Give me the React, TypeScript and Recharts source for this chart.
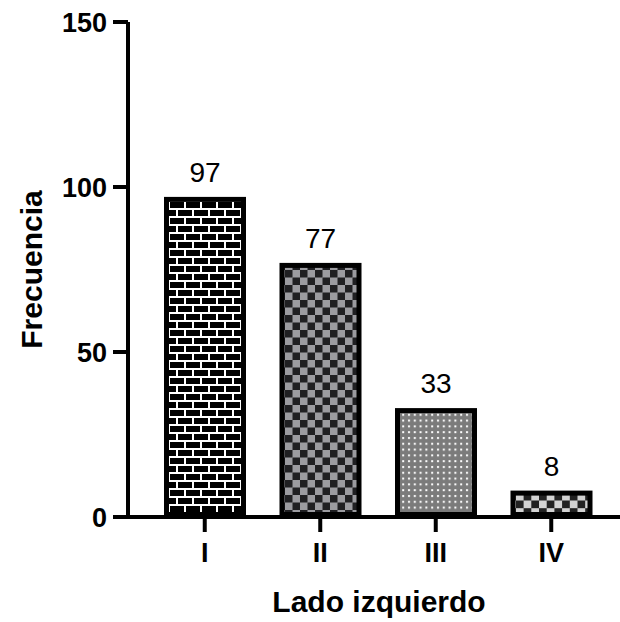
import React from 'react';
import { BarChart, Bar, XAxis, YAxis, LabelList } from 'recharts';

const categories = ['I', 'II', 'III', 'IV'];
const values = [97, 77, 33, 8];
const patternIds = ['patBrick', 'patCheckDark', 'patDots', 'patCheckLight'];
const yTicks = [0, 50, 100, 150];

const data = categories.map((c, i) => ({ cat: c, value: values[i] }));

const FONT = '"Liberation Sans", Arial, Helvetica, sans-serif';

const PatternBar = (props: any) => {
  const { x, y, width, height, index } = props;
  const sw = 5;
  return (
    <rect
      x={x + sw / 2}
      y={y + sw / 2}
      width={Math.max(0, width - sw)}
      height={Math.max(0, height - sw)}
      fill={`url(#${patternIds[index]})`}
      stroke="#000"
      strokeWidth={sw}
    />
  );
};

const YTitle = (props: any) => {
  const vb = props.viewBox || { x: 0, y: 0, width: 0, height: 0 };
  const cx = vb.x + 42;
  const cy = vb.y + vb.height / 2;
  return (
    <text
      x={cx}
      y={cy}
      transform={`rotate(-90, ${cx}, ${cy})`}
      textAnchor="middle"
      fontFamily={FONT}
      fontWeight="bold"
      fontSize={30}
      fill="#000"
    >
      Frecuencia
    </text>
  );
};

const XTitle = (props: any) => {
  const vb = props.viewBox || { x: 0, y: 0, width: 0, height: 0 };
  const cx = vb.x + vb.width / 2 + 5;
  return (
    <text
      x={cx}
      y={612}
      textAnchor="middle"
      fontFamily={FONT}
      fontWeight="bold"
      fontSize={30}
      fill="#000"
    >
      Lado izquierdo
    </text>
  );
};

export default function App() {
  return (
    <div style={{ position: 'absolute', left: 0, top: 0, width: 620, height: 622, background: '#fff' }}>
      <BarChart
        width={620}
        height={622}
        data={data}
        margin={{ top: 22, right: 0, bottom: 0, left: 0 }}
      >
        <defs>
          <pattern id="patBrick" patternUnits="userSpaceOnUse" width={16} height={16}>
            <rect x={0} y={0} width={16} height={16} fill="#000" />
            <rect x={0} y={0} width={16} height={2} fill="#fff" />
            <rect x={0} y={8} width={16} height={2} fill="#fff" />
            <rect x={0} y={0} width={2} height={8} fill="#fff" />
            <rect x={8} y={8} width={2} height={8} fill="#fff" />
          </pattern>
          <pattern id="patCheckDark" patternUnits="userSpaceOnUse" width={15} height={15}>
            <rect x={0} y={0} width={15} height={15} fill="#9b9ba0" />
            <rect x={0} y={0} width={7.5} height={7.5} fill="#1f1f22" />
            <rect x={7.5} y={7.5} width={7.5} height={7.5} fill="#1f1f22" />
          </pattern>
          <pattern id="patDots" patternUnits="userSpaceOnUse" width={5.8} height={5.8}>
            <rect x={0} y={0} width={5.8} height={5.8} fill="#7b7b7b" />
            <rect x={2} y={2} width={2} height={2} fill="#fff" />
          </pattern>
          <pattern id="patCheckLight" patternUnits="userSpaceOnUse" width={15.4} height={15.4}>
            <rect x={0} y={0} width={15.4} height={15.4} fill="#d3d3d3" />
            <rect x={0} y={0} width={7.7} height={7.7} fill="#222" />
            <rect x={7.7} y={7.7} width={7.7} height={7.7} fill="#222" />
          </pattern>
        </defs>
        <XAxis
          dataKey="cat"
          height={105}
          padding={{ left: 19, right: 11 }}
          axisLine={{ stroke: '#000', strokeWidth: 4 }}
          tickLine={{ stroke: '#000', strokeWidth: 4 }}
          tickSize={15}
          tickMargin={11}
          tick={{ fill: '#000', fontSize: 27, fontWeight: 'bold', fontFamily: FONT }}
          label={{ content: XTitle }}
        />
        <YAxis
          width={128}
          domain={[0, 150]}
          ticks={yTicks}
          allowDataOverflow
          axisLine={{ stroke: '#000', strokeWidth: 4 }}
          tickLine={{ stroke: '#000', strokeWidth: 4 }}
          tickSize={15}
          tickMargin={6}
          tick={{ fill: '#000', fontSize: 27, fontWeight: 'bold', fontFamily: FONT }}
          label={{ content: YTitle }}
        />
        <Bar dataKey="value" barSize={82} shape={PatternBar} isAnimationActive={false}>
          <LabelList
            dataKey="value"
            position="top"
            offset={15}
            fill="#000"
            fontSize={28}
            fontFamily={FONT}
          />
        </Bar>
      </BarChart>
    </div>
  );
}
